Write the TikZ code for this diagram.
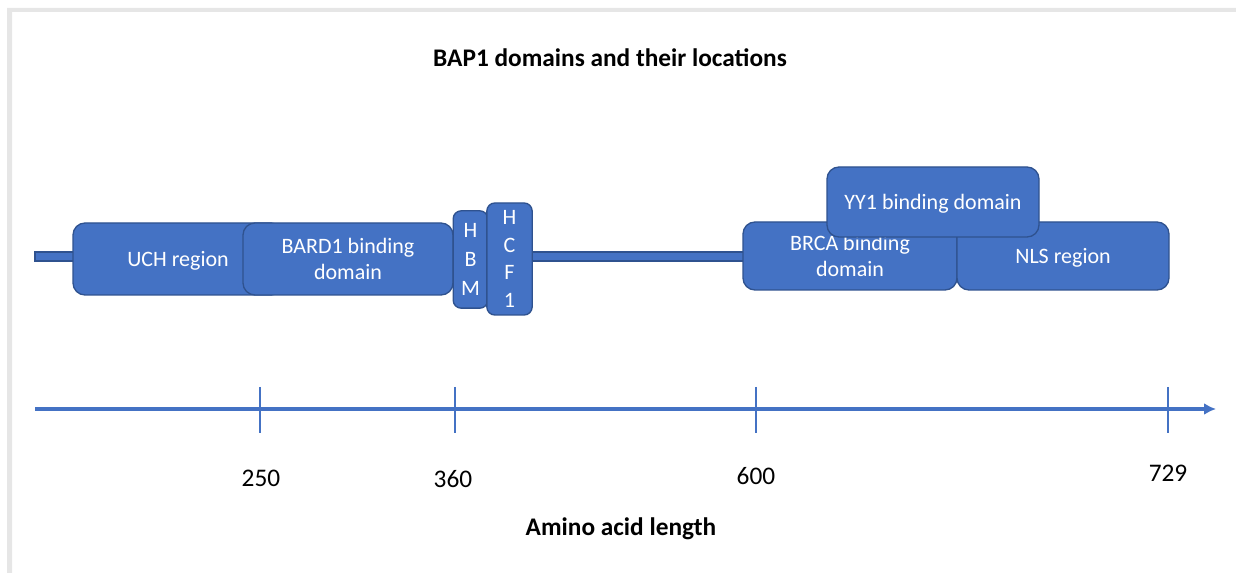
\documentclass[tikz,border=0pt]{standalone}
\usepackage{fontspec}
\setmainfont{Carlito}
\usetikzlibrary{arrows.meta}
\definecolor{domfill}{HTML}{4472C4}
\definecolor{domedge}{HTML}{2F528F}
\definecolor{framegray}{HTML}{E6E6E6}
\tikzset{every picture/.style={line width=0.75pt}}
\tikzset{
  dombox/.style={draw=domedge, fill=domfill, line width=1pt, rounded corners=9pt,
    text=white, align=center, inner sep=0pt, font=\fontsize{16.5}{19}\selectfont},
  onelinebox/.style={dombox, text depth=0pt},
  letterbox/.style={dombox, rounded corners=6pt},
  axislabel/.style={inner sep=0.75pt, font=\fontsize{19}{22}\selectfont},
  boldlabel/.style={inner sep=0.75pt, font=\fontsize{19}{22}\selectfont\bfseries}
}

\begin{document}
\begin{tikzpicture}[x=0.75pt,y=0.75pt,yscale=-1,xscale=1]
\useasboundingbox (0,0) rectangle (1236,573);

%Shape: Frame
\fill[framegray] (7,8) -- (1236,8) -- (1236,12) -- (12,12) -- (12,573) -- (7,573) -- cycle ;

% Text Node
\node[boldlabel] (title) at (610,58) {BAP1 domains and their locations};

%Shape: Backbone
\coordinate (bbstart) at (35,256.5);
\draw[draw=domedge, fill=domfill, line width=1pt] (35,252) rectangle (760,261) ;

%Shape: Domains
\node[onelinebox, minimum width=157.5pt, minimum height=54pt] (uch) at (178,259) {UCH region};
\node[dombox, minimum width=157.5pt, minimum height=54pt] (bard) at (348,259) {BARD1 binding\\domain};
\node[letterbox, minimum width=26pt, minimum height=73pt,
  font=\fontsize{16.5}{21.75}\selectfont] (hbm) at (470.5,259.5) {H\\B\\M};
\node[letterbox, minimum width=34pt, minimum height=84pt,
  font=\fontsize{16.5}{20.6}\selectfont] (hcf) at (509.5,259) {H\\C\\F\\1};
\node[dombox, minimum width=160.5pt, minimum height=51pt] (brca) at (850,256) {BRCA binding\\domain};
\node[onelinebox, minimum width=159pt, minimum height=51pt] (nls) at (1063,256) {NLS region};
\node[onelinebox, minimum width=159pt, minimum height=52.5pt] (yy) at (933,202) {YY1 binding domain};

%Shape: Axis
\coordinate (axstart) at (35,409);
\coordinate (axend) at (1216,409);
\draw[domfill, line width=3pt, -{Latex[length=9pt,width=9pt]}] (axstart) -- (axend) ;
\foreach \tx in {260,455,756,1168}{
  \draw[domfill, line width=2.2pt] (\tx,387) -- (\tx,433) ;
}

% Text Node
\node[axislabel] (n250) at (261,478) {250};
% Text Node
\node[axislabel] (n360) at (453,479) {360};
% Text Node
\node[axislabel] (n600) at (756,476) {600};
% Text Node
\node[axislabel] (n729) at (1168,473) {729};
% Text Node
\node[boldlabel] (xlabel) at (621,529) {Amino acid length};

\end{tikzpicture}
\end{document}
